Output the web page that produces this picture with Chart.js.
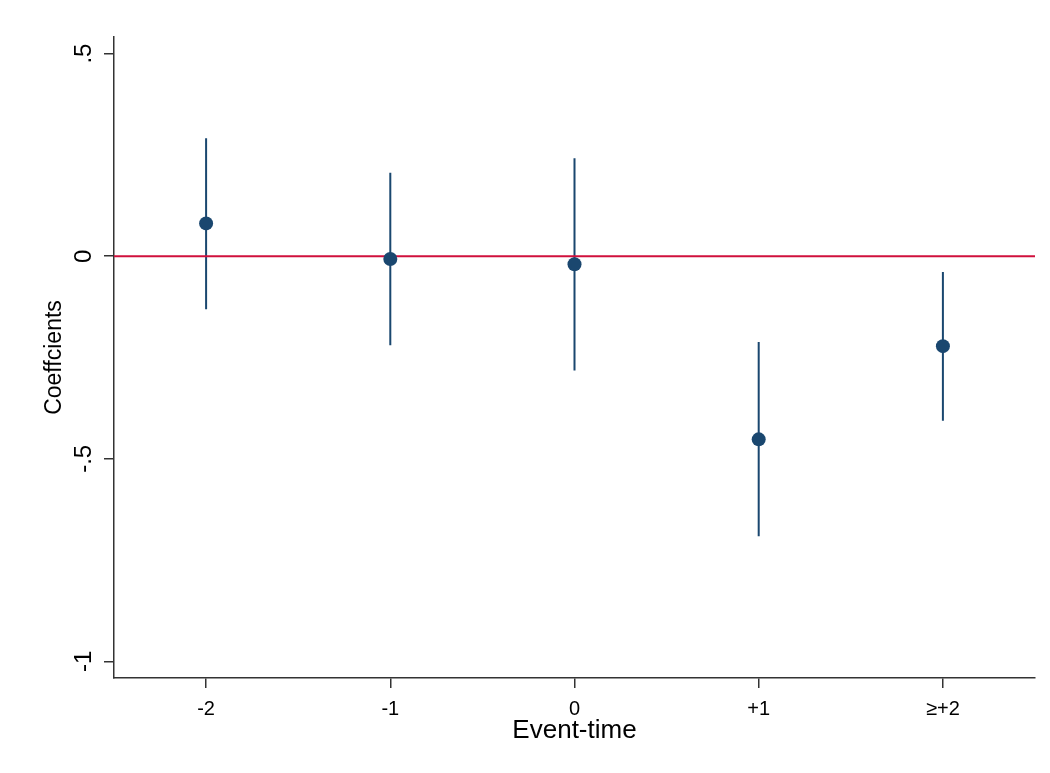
<!DOCTYPE html>
<html>
<head>
<meta charset="utf-8">
<script src="https://cdn.jsdelivr.net/npm/chart.js@4"></script>
<style>
  html, body { margin: 0; padding: 0; background: #fff; }
</style>
</head>
<body>
<canvas id="chart" width="1050" height="773"></canvas>
<script>
// event-time coefficients with 95% CIs
const eventLabels = ['-2', '-1', '0', '+1', '≥+2'];
const coefs = [0.081, -0.007, -0.020, -0.452, -0.222];
const ciLow = [-0.131, -0.220, -0.282, -0.691, -0.406];
const ciHigh = [0.291, 0.206, 0.242, -0.212, -0.039];
const yTicks = [-1, -0.5, 0, 0.5];
const yTickLabels = ['-1', '-.5', '0', '.5'];

const navy = '#1a476f';
const red = '#d0103c';
const axisColor = '#333333';
const fontFamily = '"Liberation Sans", Arial, Helvetica, sans-serif';

// vertical CI segments, broken with null between categories
const ciData = [];
eventLabels.forEach((lab, i) => {
    ciData.push({ x: i, y: ciLow[i] });
    ciData.push({ x: i, y: ciHigh[i] });
    ciData.push({ x: i, y: null });
});

const ctx = document.getElementById('chart').getContext('2d');
new Chart(ctx, {
    type: 'scatter',
    data: {
        datasets: [
            {
                // coefficient markers
                data: coefs.map((v, i) => ({ x: i, y: v })),
                pointRadius: 7,
                pointBackgroundColor: navy,
                pointBorderWidth: 0,
                showLine: false,
                order: 0
            },
            {
                // reference line at zero
                type: 'line',
                data: [{ x: -0.5, y: 0 }, { x: 4.5, y: 0 }],
                borderColor: red,
                borderWidth: 2,
                pointRadius: 0,
                order: 1
            },
            {
                type: 'line',
                data: ciData,
                borderColor: navy,
                borderWidth: 2,
                pointRadius: 0,
                spanGaps: false,
                order: 2
            }
        ]
    },
    options: {
        responsive: false,
        animation: false,
        layout: { padding: { top: 37, right: 15, left: 0, bottom: 0 } },
        plugins: {
            legend: { display: false },
            tooltip: { enabled: false }
        },
        scales: {
            x: {
                type: 'linear',
                min: -0.5,
                max: 4.5,
                afterBuildTicks: scale => {
                    scale.ticks = eventLabels.map((l, i) => ({ value: i }));
                },
                afterFit: scale => { scale.height = 95; },
                ticks: {
                    callback: v => eventLabels[v],
                    color: '#000',
                    font: { family: fontFamily, size: 20 },
                    padding: 9,
                    maxRotation: 0,
                    minRotation: 0
                },
                grid: {
                    drawOnChartArea: false,
                    drawTicks: true,
                    tickLength: 10,
                    color: axisColor,
                    lineWidth: 1.5
                },
                border: { color: axisColor, width: 1.5 },
                title: {
                    display: true,
                    text: 'Event-time',
                    color: '#000',
                    font: { family: fontFamily, size: 26 },
                    padding: { top: 0, bottom: 27 }
                }
            },
            y: {
                type: 'linear',
                min: -1.041,
                max: 0.541,
                afterBuildTicks: scale => {
                    scale.ticks = yTicks.map(v => ({ value: v }));
                },
                afterFit: scale => { scale.width = 114; },
                ticks: {
                    callback: v => yTickLabels[yTicks.indexOf(v)],
                    color: '#000',
                    font: { family: fontFamily, size: 24 },
                    padding: 6,
                    minRotation: 90,
                    maxRotation: 90,
                    crossAlign: 'center'
                },
                grid: {
                    drawOnChartArea: false,
                    drawTicks: true,
                    tickLength: 10,
                    color: axisColor,
                    lineWidth: 1.5
                },
                border: { color: axisColor, width: 1.5 },
                title: {
                    display: true,
                    text: 'Coeffcients',
                    color: '#000',
                    font: { family: fontFamily, size: 23 },
                    padding: { top: 41, bottom: 0 }
                }
            }
        }
    }
});
</script>
</body>
</html>
